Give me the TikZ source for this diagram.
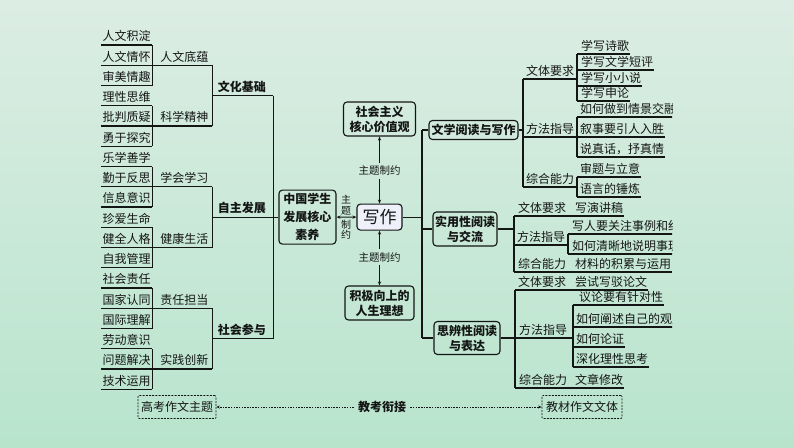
\documentclass[tikz,border=0pt]{standalone}
\usepackage{fontspec}
\setmainfont{Noto Sans CJK SC}
\usetikzlibrary{positioning, arrows.meta, calc}
\definecolor{BgTop}{RGB}{220,237,228}
\definecolor{BgBot}{RGB}{184,228,204}
\definecolor{InkDark}{RGB}{20,22,22}
\definecolor{WriteFill}{RGB}{238,240,250}
\tikzset{
  leaf/.style={anchor=south west, inner xsep=1.5pt, inner ysep=3pt, font=\fontsize{12}{12}\selectfont, text=InkDark},
  rleaf/.style={leaf, inner xsep=1pt, inner ysep=2pt},
  sublab/.style={anchor=south, inner sep=3pt, font=\fontsize{12}{12}\selectfont, text=InkDark},
  catlab/.style={sublab, font=\fontsize{12}{12}\selectfont\bfseries},
  corebox/.style={draw=InkDark, line width=1.1pt, rounded corners=3.5pt, align=center, inner sep=0pt,
    font=\fontsize{12}{15}\selectfont\bfseries, text=InkDark},
  link/.style={draw=InkDark, line width=1.2pt},
  tiptwo/.style={link, {Stealth[length=4pt,width=3.2pt]}-{Stealth[length=4pt,width=3.2pt]}},
  tipone/.style={link, -{Stealth[length=4pt,width=3.2pt]}},
  tielab/.style={inner sep=2.5pt, align=center, font=\fontsize{10.5}{10.5}\selectfont, text=InkDark},
  tagbox/.style={draw=InkDark, line width=0.7pt, dash pattern=on 2pt off 1.2pt, rounded corners=1pt,
    minimum height=23pt, inner sep=2pt, font=\fontsize{12}{12}\selectfont, text=InkDark},
  dotarrow/.style={draw=InkDark, line width=0.7pt, dash pattern=on 1.5pt off 1.2pt, -{Stealth[length=3.5pt,width=3pt]}},
}

\begin{document}
\begin{tikzpicture}[x=1pt, y=-1pt]
  \shade[top color=BgTop, bottom color=BgBot] (0,0) rectangle (794,447);
  \useasboundingbox (0,0) rectangle (794,447);

  % left: core literacy items
  \foreach \t [count=\i] in {人文积淀,人文情怀,审美情趣,理性思维,批判质疑,勇于探究,乐学善学,勤于反思,信息意识,珍爱生命,健全人格,自我管理,社会责任,国家认同,国际理解,劳动意识,问题解决,技术运用} {
    \node[leaf] (lf\i) at (101,{45+20.25*(\i-1)}) {\t};
    \draw[link] (lf\i.south west) -- (lf\i.south east);
  }
  \foreach \t [count=\k] in {人文底蕴,科学精神,学会学习,健康生活,责任担当,实践创新} {
    \pgfmathtruncatemacro\ia{3*\k-2}
    \pgfmathtruncatemacro\ib{3*\k-1}
    \pgfmathtruncatemacro\ic{3*\k}
    \draw[link] (lf\ia.south east) -- (lf\ic.south east);
    \coordinate (mj\k) at ([xshift=60pt]lf\ib.south east);
    \draw[link] (lf\ib.south east) -- (mj\k);
    \node[sublab] (md\k) at ([xshift=32pt]lf\ib.south east) {\t};
  }
  \foreach \t [count=\j] in {文化基础,自主发展,社会参与} {
    \pgfmathtruncatemacro\ka{2*\j-1}
    \pgfmathtruncatemacro\kb{2*\j}
    \draw[link] (mj\ka) -- (mj\kb);
    \coordinate (cj\j) at ($(mj\ka)!0.5!(mj\kb)$);
    \coordinate (ce\j) at ([xshift=61pt]cj\j);
    \draw[link] (cj\j) -- (ce\j);
    \node[catlab] (ct\j) at ([xshift=29.5pt]cj\j) {\t};
  }
  \draw[link] (ce1) -- (ce3);

  % centre
  \node[corebox, font=\fontsize{12}{18}\selectfont\bfseries, minimum width=57pt, minimum height=54pt, anchor=west]
    (core) at ([xshift=5pt]ce2) {中国学生\\发展核心\\素养};
  \draw[link] (ce2) -- (core.west);
  \node[corebox, fill=WriteFill, font=\fontsize{17}{17}\selectfont, minimum width=45pt, minimum height=26pt]
    (xz) at (379.5,217.1) {写作};
  \node[corebox, minimum width=72pt, minimum height=34pt] (shzy) at (379.5,119) {社会主义\\核心价值观};
  \node[corebox, minimum width=69pt, minimum height=34pt] (jjxs) at (379.5,303) {积极向上的\\人生理想};
  \node[tielab] (tie1) at (379.5,171) {主题制约};
  \node[tielab] (tie2) at (379.5,257) {主题制约};
  \draw[tipone] (tie1) -- (shzy);
  \draw[tipone] (tie1) -- (xz);
  \draw[tipone] (tie2) -- (xz);
  \draw[tipone] (tie2) -- (jjxs);
  \draw[tiptwo] (core) -- (xz);
  \node[tielab, font=\fontsize{10}{10.5}\selectfont] (tie3) at (346,205) {主\\题};
  \node[tielab, font=\fontsize{10}{10.5}\selectfont] (tie4) at (346,229.5) {制\\约};

  % right: reading and writing tasks
  \node[corebox, minimum width=89pt, minimum height=19pt] (wx) at (473.5,130) {文学阅读与写作};
  \node[corebox, minimum width=64pt, minimum height=34pt] (sy) at (465,229) {实用性阅读\\与交流};
  \node[corebox, minimum width=66pt, minimum height=33pt] (sb) at (467,338) {思辨性阅读\\与表达};
  \coordinate (rj) at (422,217.1);
  \draw[link] (xz.east) -- (rj);
  \draw[link] (wx.west -| rj) -- (sb.west -| rj);
  \foreach \b in {wx,sy,sb}
    \draw[link] (\b.west -| rj) -- (\b.west);
  \coordinate (wxs) at (523,79);
  \coordinate (sys) at (514,216);
  \coordinate (sbs) at (515,290);
  \draw[link] (wx.east) -- (wx.east -| wxs);
  \draw[link] (sy.east) -- (sy.east -| sys);
  \draw[link] (sb.east) -- (sb.east -| sbs);
  \foreach \x/\ya/\yb in {577/54/101, 577/117/157, 577/177/197, 523/79/187, 514/216/272, 568/234/254, 515/290/388, 573/305/367}
    \draw[link] (\x,\ya) -- (\x,\yb);
  \foreach \xa/\xb/\y in {523/577/79, 523/577/187, 514/568/245, 515/573/338}
    \draw[link] (\xa,\y) -- (\xb,\y);
  \foreach \t/\x/\y [count=\n] in {文体要求/550/79, 方法指导/550/137, 综合能力/550/187, 文体要求/542/216, 方法指导/541/245, 综合能力/542/272, 文体要求/542/290, 方法指导/543/338, 综合能力/543/388}
    \node[sublab, inner ysep=2pt] (rq\n) at (\x,\y) {\t};

  \begin{scope}
    \clip (0,0) rectangle (672,447);
    \foreach \t/\x/\y/\s [count=\i] in {学写诗歌/580/54/577, 学写文学短评/580/70/577, 学写小小说/580/86/577, 学写申论/580/101/577,
        如何做到情景交融/579/117/577, 叙事要引人入胜/579/137/523, 说真话，抒真情/579/157/577,
        审题与立意/579/177/577, 语言的锤炼/579/197/577,
        写演讲稿/574/216/514, 写人要关注事例和细节/571/234/568, 如何清晰地说明事理/571/254/568, 材料的积累与运用/574/272/514,
        尝试写驳论文/574/290/515, 议论要有针对性/578/305/573, 如何阐述自己的观点/575/327/573, 如何论证/575/347/573,
        深化理性思考/575/367/573, 文章修改/574/388/515} {
      \node[rleaf] (rl\i) at (\x,\y) {\t};
      \draw[link] (\s,\y) -- (rl\i.south east);
    }
  \end{scope}

  % bottom
  \node[tagbox, minimum width=78pt] (gk) at (177,407) {高考作文主题};
  \node[catlab, anchor=center, inner sep=4pt] (jk) at (382,407) {教考衔接};
  \node[tagbox, minimum width=80pt] (jc) at (582,407) {教材作文文体};
  \draw[dotarrow] (jk) -- (gk);
  \draw[dotarrow] (jk) -- (jc);
\end{tikzpicture}
\end{document}
